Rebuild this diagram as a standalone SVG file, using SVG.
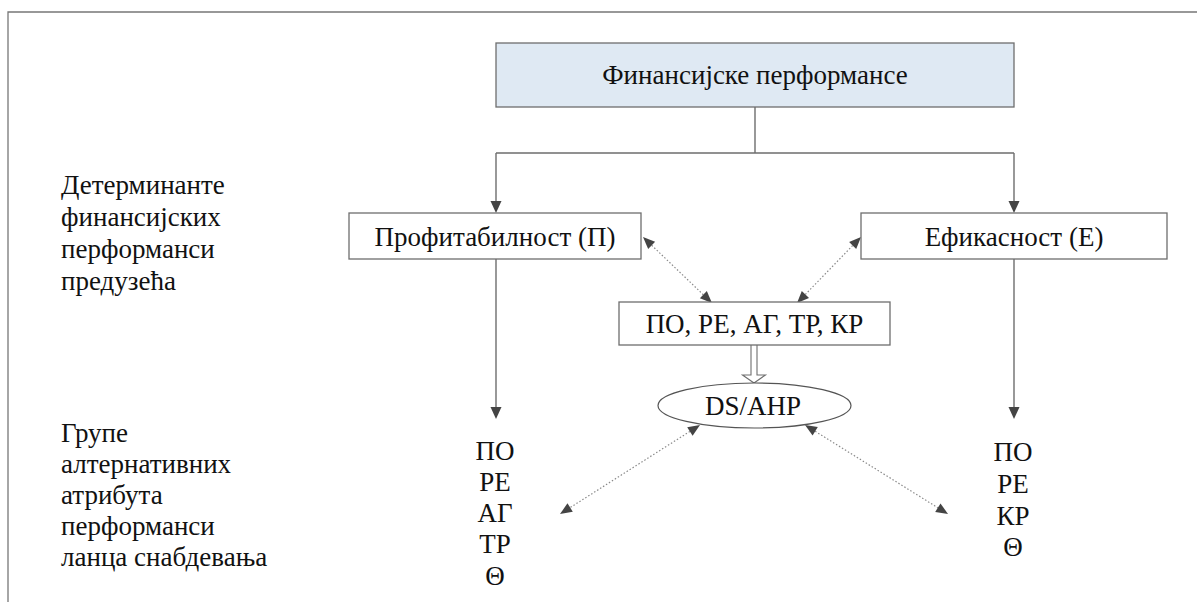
<svg xmlns="http://www.w3.org/2000/svg" width="1197" height="602" viewBox="0 0 1197 602">
  <style>
    .t { font-family: "Liberation Serif", serif; font-size: 27px; fill: #111; }
    .mid { text-anchor: middle; }
    .box { fill: #ffffff; stroke: #6e6e6e; stroke-width: 1.3; }
    .head { fill: #dfe9f3; }
    .solid { fill: none; stroke: #6e6e6e; stroke-width: 1.4; }
    .dot { fill: none; stroke: #8a8a8a; stroke-width: 1.2; stroke-dasharray: 1.5 2; }
    .tip { fill: #444; }
    .frame { fill: none; stroke: #777; stroke-width: 1.3; }
  </style>

  <path class="frame" d="M8,602 V12 H1197"/>

  <g id="label-determinants">
    <text class="t" x="61" y="194">Детерминанте</text>
    <text class="t" x="61" y="226">финансијских</text>
    <text class="t" x="61" y="258">перформанси</text>
    <text class="t" x="61" y="290">предузећа</text>
  </g>
  <g id="label-groups">
    <text class="t" x="61" y="442">Групе</text>
    <text class="t" x="61" y="473">алтернативних</text>
    <text class="t" x="61" y="504">атрибута</text>
    <text class="t" x="61" y="535">перформанси</text>
    <text class="t" x="61" y="566">ланца снабдевања</text>
  </g>

  <g id="connectors">
    <path class="solid" d="M755,107 V153 M496,153 H1014 M496,153 V202 M1014,153 V202 M496,259 V408 M1014,259 V408"/>
    <polygon class="tip" points="496,213 490.5,201 501.5,201"/>
    <polygon class="tip" points="1014,213 1008.5,201 1019.5,201"/>
    <polygon class="tip" points="496,419 490.5,407 501.5,407"/>
    <polygon class="tip" points="1014,419 1008.5,407 1019.5,407"/>

    <path class="dot" d="M651.7,245.3 L703.3,294.7"/>
    <polygon class="tip" points="643,237 648.2,248.9 655.1,241.7"/>
    <polygon class="tip" points="712,303 699.9,298.3 706.8,291.1"/>

    <path class="dot" d="M852.6,245.6 L805.4,294.4"/>
    <polygon class="tip" points="861,237 849.1,242.1 856.2,249.1"/>
    <polygon class="tip" points="797,303 801.8,290.9 809.0,297.9"/>

    <path class="dot" d="M689.9,431.4 L570.1,507.6"/>
    <polygon class="tip" points="700,425 687.2,427.2 692.6,435.7"/>
    <polygon class="tip" points="560,514 567.5,503.3 572.8,511.8"/>

    <path class="dot" d="M815.2,431.3 L937.8,507.7"/>
    <polygon class="tip" points="805,425 812.6,435.6 817.8,427.1"/>
    <polygon class="tip" points="948,514 935.2,511.9 940.5,503.4"/>

    <path d="M751,345 V375 H742.5 L754,383 L765.5,375 H757 V345" fill="#fff" stroke="#6e6e6e" stroke-width="1.1"/>
  </g>

  <g id="financial-performance">
    <rect class="box head" x="496" y="43" width="518" height="64"/>
    <text class="t mid" x="755" y="84">Финансијске перформансе</text>
  </g>
  <g id="profitability">
    <rect class="box" x="349" y="213" width="292" height="46"/>
    <text class="t mid" x="495" y="246">Профитабилност (П)</text>
  </g>
  <g id="efficiency">
    <rect class="box" x="861" y="213" width="306" height="46"/>
    <text class="t mid" x="1014" y="246">Ефикасност (Е)</text>
  </g>
  <g id="attributes">
    <rect class="box" x="619" y="302" width="271" height="43"/>
    <text class="t mid" x="754.5" y="333">ПО, РЕ, АГ, ТР, КР</text>
  </g>
  <g id="ds-ahp">
    <ellipse cx="754.5" cy="405.5" rx="96.5" ry="22.5" fill="#fff" stroke="#555" stroke-width="1.2"/>
    <text class="t mid" x="753" y="415">DS/AHP</text>
  </g>
  <g id="group-profitability">
    <text class="t mid" x="495" y="460">ПО</text>
    <text class="t mid" x="495" y="491">РЕ</text>
    <text class="t mid" x="495" y="522">АГ</text>
    <text class="t mid" x="495" y="553">ТР</text>
    <text class="t mid" x="495" y="585">Θ</text>
  </g>
  <g id="group-efficiency">
    <text class="t mid" x="1013" y="461">ПО</text>
    <text class="t mid" x="1013" y="493">РЕ</text>
    <text class="t mid" x="1013" y="525">КР</text>
    <text class="t mid" x="1013" y="556">Θ</text>
  </g>
</svg>
